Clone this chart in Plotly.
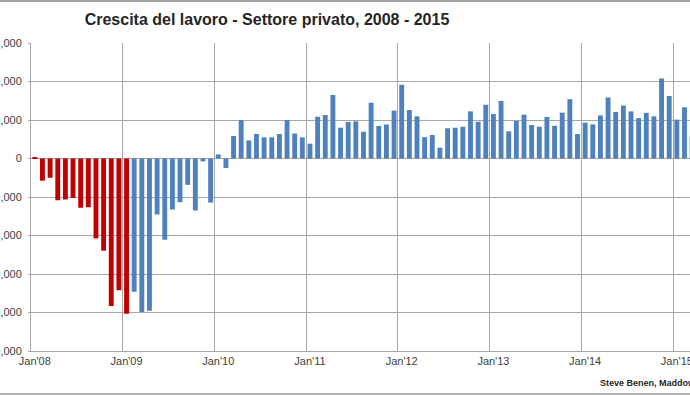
import plotly.graph_objects as go

# Monthly private-sector job change (thousands)
months = ["Jan", "Feb", "Mar", "Apr", "May", "Jun", "Jul", "Aug", "Sep", "Oct", "Nov", "Dec"]
years = ["08", "09", "10", "11", "12", "13", "14", "15"]

v2008 = [5, -115, -100, -217, -213, -205, -256, -253, -415, -479, -766, -684]
v2009 = [-807, -692, -798, -791, -291, -422, -265, -227, -137, -270, -15, -229]
v2010 = [21, -49, 117, 200, 94, 127, 110, 110, 127, 200, 130, 110]
v2011 = [77, 217, 226, 330, 160, 190, 193, 139, 290, 169, 177, 249]
v2012 = [383, 252, 219, 111, 122, 56, 157, 160, 165, 245, 191, 279]
v2013 = [231, 299, 141, 195, 228, 174, 165, 216, 170, 238, 308, 127]
v2014 = [186, 177, 224, 317, 242, 275, 245, 210, 237, 219, 416, 325]
v2015 = [202, 266, 115]

values_k = v2008 + v2009 + v2010 + v2011 + v2012 + v2013 + v2014 + v2015
values = [v * 1000 for v in values_k]
labels = [f"{m}'{y}" for y in years for m in months][: len(values)]
n_red = 13  # Jan'08 .. Jan'09

y_ticks = list(range(-1000000, 600001, 200000))
y_ticktext = [f"{t:,}" for t in y_ticks]
x_tickvals = list(range(0, len(values), 12))
x_ticktext = [labels[i] for i in x_tickvals]

RED = "#C00000"
BLUE = "#4F81BD"
colors = [RED if i < n_red else BLUE for i in range(len(values))]

fig = go.Figure()
fig.add_trace(go.Bar(
    x=list(range(len(values))),
    y=values,
    marker=dict(color=colors, line=dict(width=0)),
    width=0.64,
    hovertext=labels,
    showlegend=False,
))

GRID = "#a8a8a8"
TICKFONT = dict(family="Liberation Sans, Arial, sans-serif", size=11, color="#404040")

fig.update_layout(
    width=690,
    height=395,
    template="none",
    paper_bgcolor="white",
    plot_bgcolor="white",
    margin=dict(l=31, r=0, t=43, b=44, autoexpand=False),
    title=dict(
        text="Crescita del lavoro - Settore privato, 2008 - 2015",
        font=dict(family="Liberation Sans, Arial, sans-serif",
                  size=16, color="#262626", weight="bold"),
        x=267 / 690, xref="container", xanchor="center",
        y=1 - 19 / 395, yref="container", yanchor="middle",
    ),
    xaxis=dict(
        range=[-0.5, 85.72],
        tickmode="array",
        tickvals=x_tickvals,
        ticktext=x_ticktext,
        showgrid=False,
        zeroline=False,
        showline=True,
        linecolor=GRID,
        linewidth=1,
        ticks="",
        tickfont=TICKFONT,
        ticklabeloverflow="allow",
        automargin=False,
        minor=dict(tickmode="linear", tick0=-0.5, dtick=12, showgrid=True,
                   gridcolor=GRID, gridwidth=1, ticks=""),
    ),
    yaxis=dict(
        range=[-1000000, 600000],
        tickmode="array",
        tickvals=y_ticks,
        ticktext=y_ticktext,
        showgrid=True,
        gridcolor=GRID,
        gridwidth=1,
        zeroline=False,
        showline=True,
        linecolor=GRID,
        linewidth=1,
        ticks="outside",
        ticklen=2,
        tickcolor=GRID,
        ticklabelstandoff=4,
        tickfont=TICKFONT,
        ticklabeloverflow="allow",
        automargin=False,
    ),
    annotations=[dict(
        text="Steve Benen, MaddowBlog",
        xref="paper", yref="paper",
        x=(598 - 31) / 659, y=(351 - 383) / 308,
        xanchor="left", yanchor="middle",
        showarrow=False,
        font=dict(family="Liberation Sans, Arial, sans-serif",
                  size=9, color="#262626", weight="bold"),
    )],
    shapes=[
        dict(type="line", xref="paper", yref="paper",
             x0=-31 / 659, x1=1.02, y0=(351 - 1) / 308, y1=(351 - 1) / 308,
             line=dict(color="#a0a0a0", width=2)),
        dict(type="line", xref="paper", yref="paper",
             x0=-31 / 659, x1=1.02, y0=(351 - 394) / 308, y1=(351 - 394) / 308,
             line=dict(color="#b0b0b0", width=2)),
    ],
)

fig.write_html(
    "out.html",
    config={"displayModeBar": False},
    post_script="document.body.style.margin='0';document.body.style.overflow='hidden';",
)
